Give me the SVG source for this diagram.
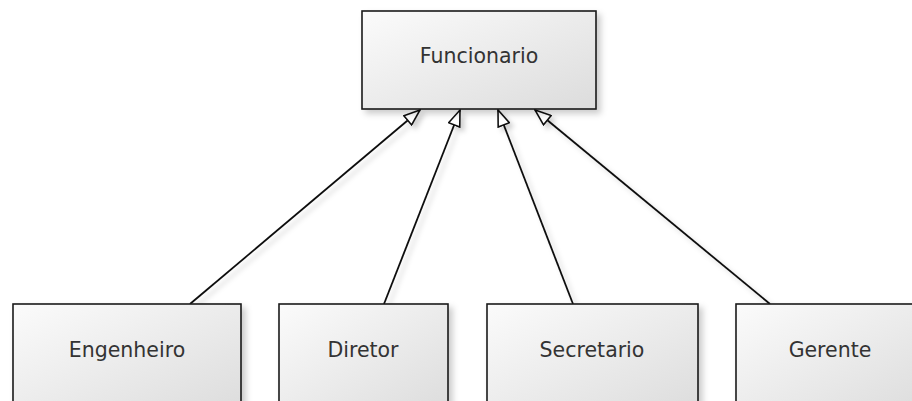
<svg xmlns="http://www.w3.org/2000/svg" width="912" height="401" viewBox="0 0 912 401">
  <style>
    .box { fill: url(#g); stroke: #1a1a1a; stroke-width: 1.6; filter: url(#sh); }
    .lbl { font-family: "DejaVu Sans", Verdana, sans-serif; font-size: 20.5px; fill: #333; text-anchor: middle; }
    .conn { stroke: #111; stroke-width: 1.8; fill: none; marker-end: url(#tri); filter: url(#sh2); }
  </style>
  <defs>
    <linearGradient id="g" x1="0" y1="0" x2="1" y2="1">
      <stop offset="0" stop-color="#fbfbfb"/>
      <stop offset="1" stop-color="#dcdcdc"/>
    </linearGradient>
    <filter id="sh" x="-10%" y="-10%" width="130%" height="140%">
      <feDropShadow dx="4" dy="4" stdDeviation="3" flood-color="#000" flood-opacity="0.2"/>
    </filter>
    <filter id="sh2" x="-20%" y="-20%" width="140%" height="140%">
      <feDropShadow dx="4" dy="4" stdDeviation="2.5" flood-color="#000" flood-opacity="0.18"/>
    </filter>
    <marker id="tri" viewBox="0 0 18 14" refX="17" refY="7" markerWidth="18" markerHeight="14" markerUnits="userSpaceOnUse" orient="auto">
      <path d="M1,1 L17,7 L1,13 Z" fill="#fff" stroke="#111" stroke-width="1.6" stroke-linejoin="miter"/>
    </marker>
  </defs>
  <g id="connectors">
    <path class="conn" d="M190,304 L420,110"/>
    <path class="conn" d="M384,304 L460,110"/>
    <path class="conn" d="M573,304 L498,110"/>
    <path class="conn" d="M770,304 L535,110"/>
  </g>
  <g id="funcionario">
    <rect class="box" x="362" y="11" width="234" height="98"/>
    <text class="lbl" x="479" y="63">Funcionario</text>
  </g>
  <g id="engenheiro">
    <rect class="box" x="13" y="304" width="228" height="110"/>
    <text class="lbl" x="127" y="357">Engenheiro</text>
  </g>
  <g id="diretor">
    <rect class="box" x="279" y="304" width="169" height="110"/>
    <text class="lbl" x="363" y="357">Diretor</text>
  </g>
  <g id="secretario">
    <rect class="box" x="487" y="304" width="211" height="110"/>
    <text class="lbl" x="592" y="357">Secretario</text>
  </g>
  <g id="gerente">
    <rect class="box" x="736" y="304" width="190" height="110"/>
    <text class="lbl" x="830" y="357">Gerente</text>
  </g>
</svg>
